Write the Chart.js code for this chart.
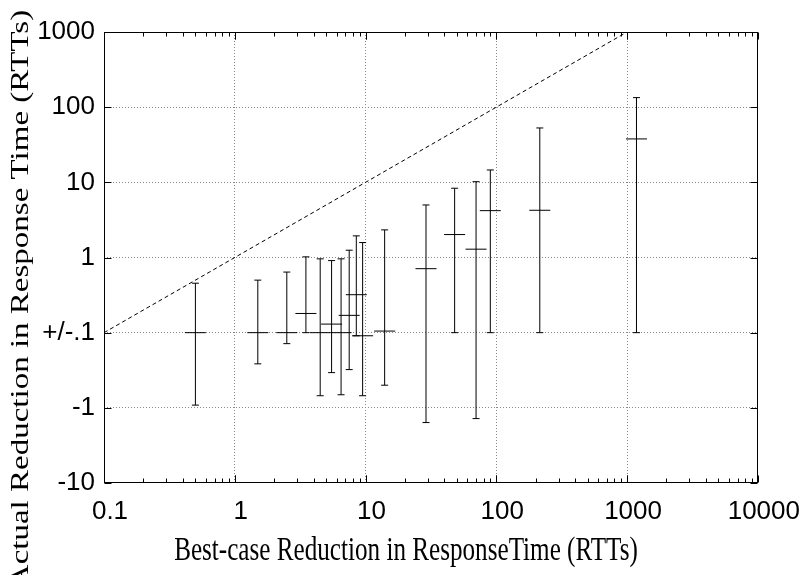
<!DOCTYPE html>
<html>
<head>
<meta charset="utf-8">
<script src="https://cdn.jsdelivr.net/npm/chart.js@4.4.0/dist/chart.umd.min.js"></script>
<style>
  html, body { margin: 0; padding: 0; background: #fff; }
  #wrap { width: 807px; height: 575px; }
</style>
</head>
<body>
<div id="wrap"><canvas id="chart"></canvas></div>
<script>
// данные
const xValues = [0.5, 1.5, 2.5, 3.5, 4.5, 5.5, 6.5, 7.5, 8.5, 9.5, 14, 29, 48, 70, 90, 215, 1180];
const yValues = [0, 0, 0, 0.18, 0, 0.13, 0, 0.17, 0.32, -0.11, 0.105, 0.71, 2.02, 1.29, 4.2, 4.25, 37.8];
const yHigh = [0.455, 0.5, 0.64, 1.02, 0.96, 0.91, 0.96, 1.25, 1.94, 1.58, 2.33, 5.0, 8.35, 10.2, 14.6, 52.9, 134];
const yLow = [-0.92, -0.26, -0.14, 0, -0.69, -0.34, -0.67, -0.31, -0.11, -0.69, -0.5, -1.57, 0, -1.39, 0, 0, 0];
const diagX = [0.1, 1000];
const xTickLabels = ['0.1', '1', '10', '100', '1000', '10000'];
const yTickLabels = ['-10', '-1', '+/-.1', '1', '10', '100', '1000'];
const xTitle = 'Best-case Reduction in ResponseTime (RTTs)';
const yTitle = 'Actual Reduction in Response Time (RTTs)';

// ось y: логарифм с обеих сторон, всё что меньше 0.1 по модулю - в одну точку
const toAxis = v => v >= 0.1 ? Math.log10(v) : (v <= -0.1 ? -2 - Math.log10(-v) : -1);

const isDecade = v => Math.abs(Math.log10(v) - Math.round(Math.log10(v))) < 1e-6;

// отрезки ошибок, разделяем null
let barData = [];
xValues.forEach((x, i) => {
  barData.push({x: x, y: toAxis(yLow[i])});
  barData.push({x: x, y: toAxis(yHigh[i])});
  barData.push({x: x, y: null});
});
let centerData = xValues.map((x, i) => ({x: x, y: toAxis(yValues[i])}));
let diagData = diagX.map(x => ({x: x, y: toAxis(x)}));

// рамка, засечки внутрь и подписи осей
const framePlugin = {
  id: 'frame',
  afterDraw(chart) {
    const ctx = chart.ctx;
    const a = chart.chartArea;
    const sx = chart.scales.x, sy = chart.scales.y;
    ctx.save();
    ctx.strokeStyle = '#000';
    ctx.lineWidth = 1;
    const L = Math.round(a.left) + 0.5, R = Math.round(a.right) - 0.5;
    const T = Math.round(a.top) + 0.5, B = Math.round(a.bottom) - 0.5;
    ctx.strokeRect(L, T, R - L, B - T);
    ctx.beginPath();
    for (let d = 0.1; d < 10000; d *= 10) {
      for (let k = 1; k <= 10; k++) {
        const v = d * k;
        if (v > 10000.1) break;
        const px = Math.round(sx.getPixelForValue(v)) + 0.5;
        const len = (k === 1 || k === 10) ? 7 : 4;
        ctx.moveTo(px, B); ctx.lineTo(px, B - len);
        ctx.moveTo(px, T); ctx.lineTo(px, T + len);
      }
    }
    for (let t = -3; t <= 3; t++) {
      const py = Math.round(sy.getPixelForValue(t)) + 0.5;
      ctx.moveTo(L, py); ctx.lineTo(L + 7, py);
      ctx.moveTo(R, py); ctx.lineTo(R - 7, py);
    }
    ctx.stroke();

    ctx.fillStyle = '#000';
    ctx.font = '33px "Liberation Serif", "Times New Roman", serif';
    ctx.textAlign = 'center';
    ctx.textBaseline = 'middle';
    // подпись x
    ctx.save();
    ctx.translate(406, 551);
    ctx.scale(0.762, 1);
    ctx.fillText(xTitle, 0, 0);
    ctx.restore();
    // подпись y
    ctx.save();
    ctx.translate(21, 299);
    ctx.scale(0.762, 1);
    ctx.rotate(-Math.PI / 2);
    ctx.fillText(yTitle, 0, 0);
    ctx.restore();
    ctx.restore();
  }
};

let canvas = document.getElementById('chart');
let context = canvas.getContext('2d');

new Chart(context, {
  type: 'line',
  data: {
    datasets: [
      {
        label: 'y=x',
        data: diagData,
        borderColor: '#000',
        borderWidth: 1,
        borderDash: [4, 3],
        pointRadius: 0,
        fill: false
      },
      {
        label: 'bars',
        data: barData,
        borderColor: '#000',
        borderWidth: 1,
        pointStyle: 'line',
        pointRadius: 3.5,
        pointBorderColor: '#000',
        pointBorderWidth: 1,
        spanGaps: false,
        fill: false
      },
      {
        label: 'center',
        data: centerData,
        showLine: false,
        pointStyle: 'line',
        pointRadius: 10.5,
        pointBorderColor: '#000',
        pointBorderWidth: 1
      }
    ]
  },
  options: {
    responsive: true,
    maintainAspectRatio: false,
    devicePixelRatio: 1,
    animation: false,
    layout: { padding: { left: 0, right: 45, top: 32, bottom: 0 } },
    plugins: { legend: { display: false }, tooltip: { enabled: false } },
    scales: {
      x: {
        type: 'logarithmic',
        min: 0.1,
        max: 10000,
        afterFit: s => { s.height = 92; },
        border: { display: false, dash: [1, 2] },
        grid: {
          drawTicks: false,
          lineWidth: 1,
          color: c => (c.tick && isDecade(c.tick.value) && c.tick.value > 0.11 && c.tick.value < 9999) ? '#888' : 'rgba(0,0,0,0)'
        },
        ticks: {
          autoSkip: false,
          maxRotation: 0,
          padding: 13,
          labelOffset: 6,
          color: '#000',
          font: { family: '"Liberation Sans", Arial, sans-serif', size: 26 },
          callback: function (value) {
            if (!isDecade(value)) return '';
            return xTickLabels[Math.round(Math.log10(value)) + 1];
          }
        }
      },
      y: {
        type: 'linear',
        min: -3,
        max: 3,
        afterFit: s => { s.width = 104; },
        border: { display: false, dash: [1, 2] },
        grid: {
          drawTicks: false,
          lineWidth: 1,
          color: c => (c.tick && Math.abs(c.tick.value) < 2.5) ? '#888' : 'rgba(0,0,0,0)'
        },
        ticks: {
          stepSize: 1,
          padding: 9,
          color: '#000',
          font: { family: '"Liberation Sans", Arial, sans-serif', size: 26 },
          callback: v => yTickLabels[Math.round(v) + 3]
        }
      }
    }
  },
  plugins: [framePlugin]
});
</script>
</body>
</html>
